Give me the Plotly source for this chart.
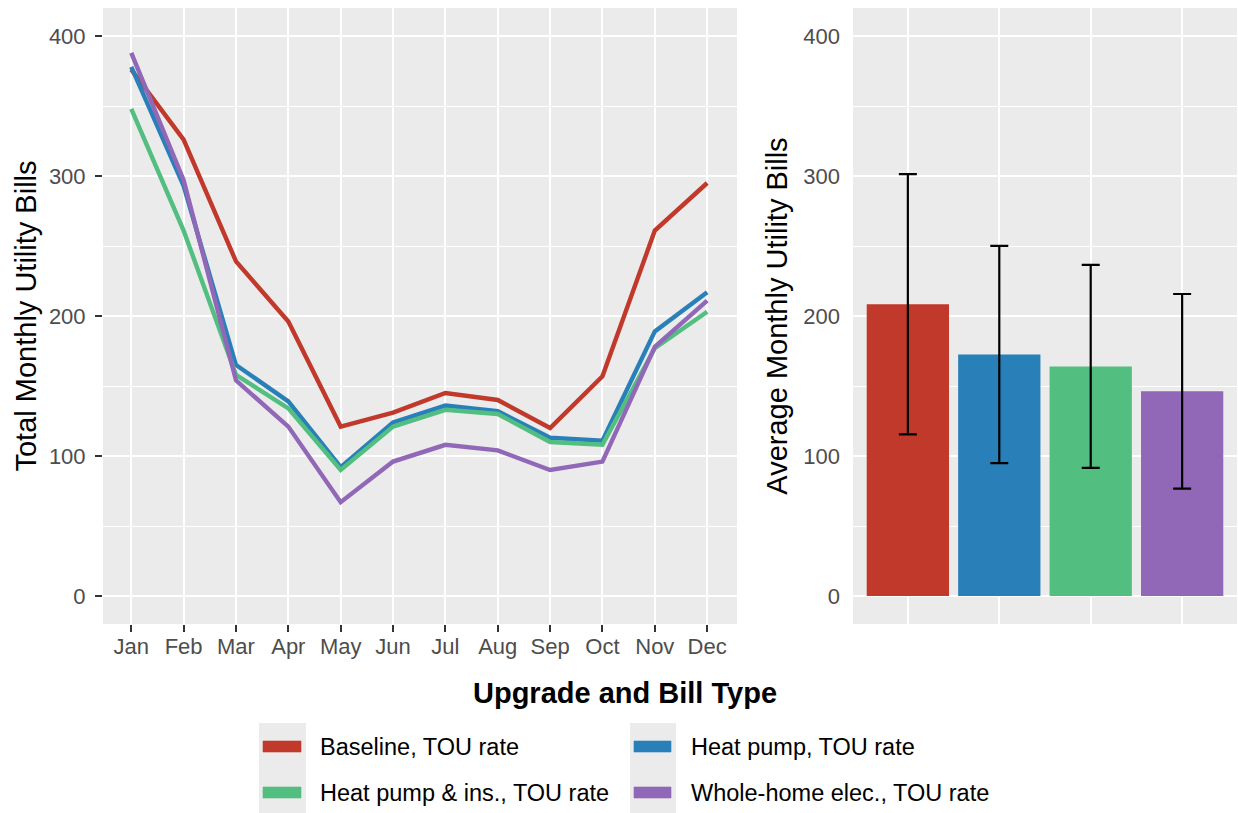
import plotly.graph_objects as go

# Monthly totals per upgrade scenario (time-of-use rate)
months = ["Jan", "Feb", "Mar", "Apr", "May", "Jun", "Jul", "Aug", "Sep", "Oct", "Nov", "Dec"]
baseline_tou = [376, 326, 239, 196, 121, 131, 145, 140, 120, 157, 261, 295]
heat_pump_tou = [378, 293, 165, 139, 92, 124, 136, 132, 113, 111, 189, 217]
heat_pump_ins_tou = [348, 261, 158, 134, 90, 121, 133, 130, 110, 108, 177, 203]
whole_home_tou = [388, 297, 154, 121, 67, 96, 108, 104, 90, 96, 178, 211]

# Average monthly bill and its spread per scenario
scenarios = ["Baseline, TOU rate", "Heat pump, TOU rate",
             "Heat pump & ins., TOU rate", "Whole-home elec., TOU rate"]
avg_monthly = [208.4, 172.5, 164.0, 146.2]
avg_spread = [93.0, 77.6, 72.5, 69.5]

colors = ["#C0392B", "#2980B9", "#52BE80", "#9167B7"]
series = [baseline_tou, heat_pump_tou, heat_pump_ins_tou, whole_home_tou]

FONT = "Liberation Sans, Arial, sans-serif"
W, H = 1238, 813
PANEL_BG = "#EBEBEB"


def px_x(v):
    return v / W


def px_y(v):
    return 1 - v / H


fig = go.Figure()

# Left panel: monthly lines
for name, vals, col in zip(scenarios, series, colors):
    fig.add_trace(go.Scatter(
        x=months, y=vals, mode="lines", name=name,
        line=dict(color=col, width=4.4),
        xaxis="x", yaxis="y", showlegend=False,
    ))

# Right panel: average bars with error bars
fig.add_trace(go.Bar(
    x=scenarios, y=avg_monthly,
    marker=dict(color=colors, line=dict(width=0)),
    width=0.9,
    error_y=dict(type="data", array=avg_spread, visible=True,
                 color="black", thickness=2.2, width=9),
    xaxis="x2", yaxis="y2", showlegend=False,
))

# Legend: grey key columns, colour keys and labels laid out in a 2x2 grid
key_cols = [(259, 306, 263, 301, 318), (630, 676, 634, 671, 689)]
row_centers = [746.5, 792.5]
shapes = []
annotations = []
for bg0, bg1, _, _, _ in key_cols:
    shapes.append(dict(type="rect", xref="paper", yref="paper",
                       x0=px_x(bg0), x1=px_x(bg1), y0=px_y(813), y1=px_y(723),
                       fillcolor=PANEL_BG, line=dict(width=0), layer="below"))
for i, (name, col) in enumerate(zip(scenarios, colors)):
    row, c = divmod(i, 2)
    _, _, k0, k1, tx = key_cols[c]
    cy = row_centers[row]
    shapes.append(dict(type="rect", xref="paper", yref="paper",
                       x0=px_x(k0), x1=px_x(k1), y0=px_y(cy + 5.5), y1=px_y(cy - 5.5),
                       fillcolor=col, line=dict(width=0.6, color=col)))
    annotations.append(dict(text=name, x=px_x(tx), y=px_y(cy),
                            xref="paper", yref="paper", showarrow=False,
                            xanchor="left", yanchor="middle",
                            font=dict(family=FONT, size=23.5, color="black")))

annotations.append(dict(
    text="<b>Upgrade and Bill Type</b>", x=px_x(625), y=px_y(693),
    xref="paper", yref="paper", showarrow=False,
    xanchor="center", yanchor="middle",
    font=dict(family=FONT, size=29, color="black"),
))

y_dom = [px_y(624), px_y(8)]
tick_font = dict(family=FONT, size=22, color="#4D4D4D")
title_font = dict(family=FONT, size=29, color="black")

common_y = dict(
    range=[-20, 420], tickvals=[0, 100, 200, 300, 400],
    showgrid=True, gridcolor="white", gridwidth=2.4,
    minor=dict(tickvals=[50, 150, 250, 350], showgrid=True,
               gridcolor="white", gridwidth=1.2, ticks=""),
    zeroline=False, showline=False, tickfont=tick_font,
)

fig.update_layout(
    width=W, height=H,
    margin=dict(l=0, r=0, t=0, b=0),
    paper_bgcolor="white", plot_bgcolor=PANEL_BG,
    font=dict(family=FONT),
    showlegend=False,
    xaxis=dict(
        domain=[px_x(103), px_x(737)], anchor="y",
        type="category", range=[-0.54, 11.57],
        showgrid=True, gridcolor="white", gridwidth=2.4,
        ticks="outside", ticklen=7, tickwidth=2.4, tickcolor="#333333",
        tickfont=tick_font, zeroline=False, showline=False,
        ticklabelstandoff=-4,
    ),
    yaxis=dict(
        domain=y_dom, anchor="x",
        ticks="outside", ticklen=7, tickwidth=2.4, tickcolor="#333333",
        ticklabelstandoff=5,
        title=dict(text="Total Monthly Utility Bills", font=title_font, standoff=3),
        **common_y,
    ),
    xaxis2=dict(
        domain=[px_x(853), px_x(1237)], anchor="y2",
        type="category", range=[-0.6, 3.6],
        showgrid=True, gridcolor="white", gridwidth=2.4,
        ticks="", showticklabels=False, zeroline=False, showline=False,
    ),
    yaxis2=dict(
        domain=y_dom, anchor="x2",
        ticks="", ticklabelstandoff=12,
        title=dict(text="Average Monthly Utility Bills", font=title_font, standoff=7),
        **common_y,
    ),
    annotations=annotations,
    shapes=shapes,
)

fig.write_html("out.html")
